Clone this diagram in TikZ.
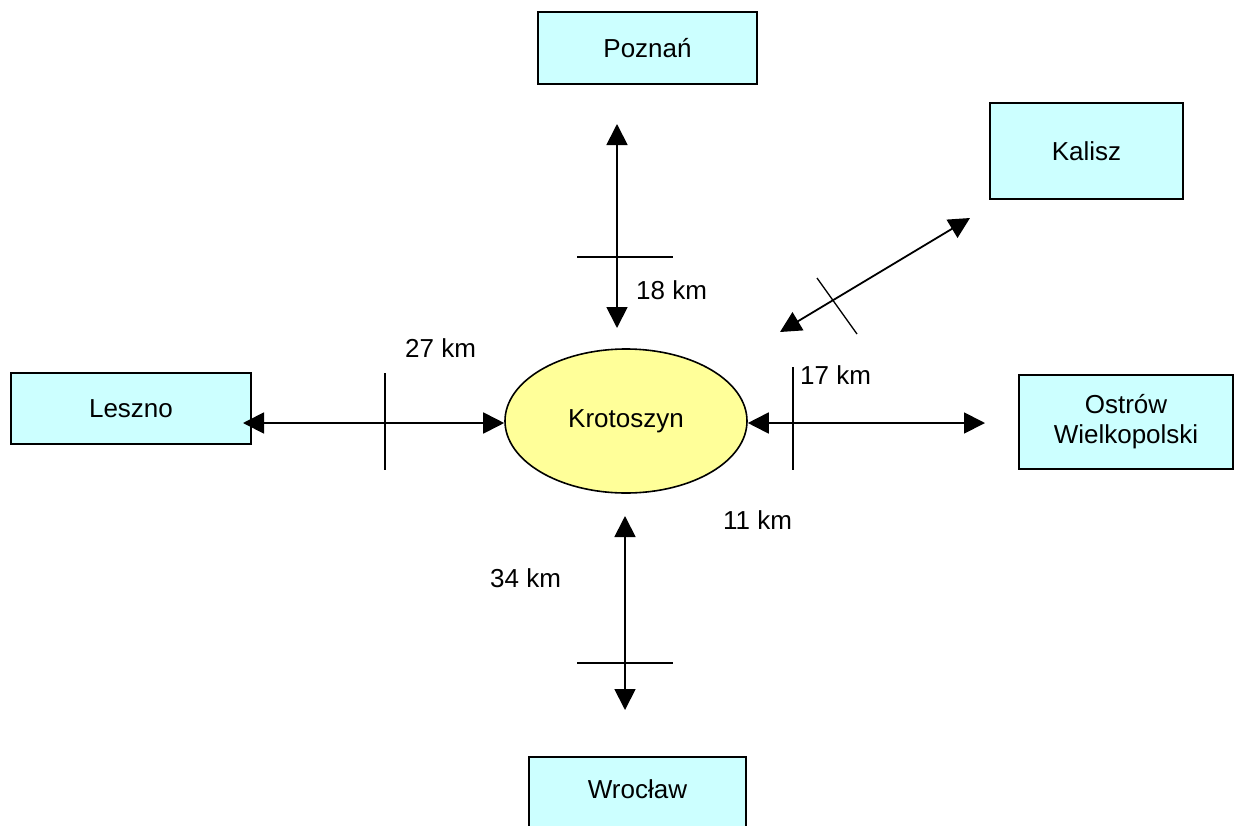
\documentclass[tikz,border=0pt]{standalone}
\usepackage{fontspec}
\setmainfont{Liberation Sans}
\usetikzlibrary{shapes.geometric,arrows.meta}
\definecolor{boxcyan}{HTML}{CCFFFF}
\definecolor{ovalyellow}{HTML}{FFFF99}
\begin{document}
\begin{tikzpicture}[x=1pt,y=-1pt,
  font=\fontsize{26}{30}\selectfont,
  city/.style={draw=black, line width=1.6pt, fill=boxcyan, inner sep=0pt, align=center},
  hub/.style={ellipse, draw=black, line width=1.6pt, fill=ovalyellow, inner sep=0pt,
              minimum width=242pt, minimum height=144pt},
  link/.style={line width=1.8pt, {Triangle[length=21pt,width=21pt]}-{Triangle[length=21pt,width=21pt]}},
  tick/.style={line width=1.3pt},
  dist/.style={anchor=west, inner sep=0pt}]
\useasboundingbox (0,0) rectangle (1234,825);

% towns
\node[city, minimum width=219pt, minimum height=72pt] (poznan) at (647.5,48) {Poznań};
\node[city, minimum width=193pt, minimum height=96pt] (kalisz) at (1086.5,151) {Kalisz};
\node[city, minimum width=240pt, minimum height=71pt] (leszno) at (131,408.5) {Leszno};
\node[city, minimum width=214pt, minimum height=94pt] (ostrow) at (1126,422) {Ostrów\\Wielkopolski};
\node[city, minimum width=217pt, minimum height=72pt, text depth=8pt] (wroclaw) at (637.5,793) {Wrocław};
\node[hub] (kro) at (626,421) {Krotoszyn};

% arrow ends
\coordinate (pozA) at (617,124);  \coordinate (pozB) at (617,328);
\coordinate (kalA) at (970,218);  \coordinate (kalB) at (780,332);
\coordinate (lesA) at (243,423);
\coordinate (ostA) at (985,423);
\coordinate (wroA) at (625,710);  \coordinate (wroB) at (625,516);

% roads
\draw[link] (pozA) -- (pozB);
\draw[link] (kalB) -- (kalA);
\draw[link] (lesA) -- (lesA -| kro.west);
\draw[link] (ostA -| kro.east) -- (ostA);
\draw[link] (wroB) -- (wroA);

% cross marks
\coordinate (t1a) at (577,257); \coordinate (t1b) at (673,257);
\coordinate (t2a) at (817,278); \coordinate (t2b) at (857,334);
\coordinate (t3a) at (385,373); \coordinate (t3b) at (385,470);
\coordinate (t4a) at (793,367); \coordinate (t4b) at (793,470);
\coordinate (t5a) at (577,663); \coordinate (t5b) at (673,663);
\draw[tick] (t1a) -- (t1b);
\draw[tick] (t2a) -- (t2b);
\draw[tick] (t3a) -- (t3b);
\draw[tick] (t4a) -- (t4b);
\draw[tick] (t5a) -- (t5b);

% distances
\node[dist] (d18) at (636,290) {18 km};
\node[dist] (d27) at (405,348) {27 km};
\node[dist] (d17) at (800,375) {17 km};
\node[dist] (d11) at (723,520) {11 km};
\node[dist] (d34) at (490,578) {34 km};
\end{tikzpicture}
\end{document}
